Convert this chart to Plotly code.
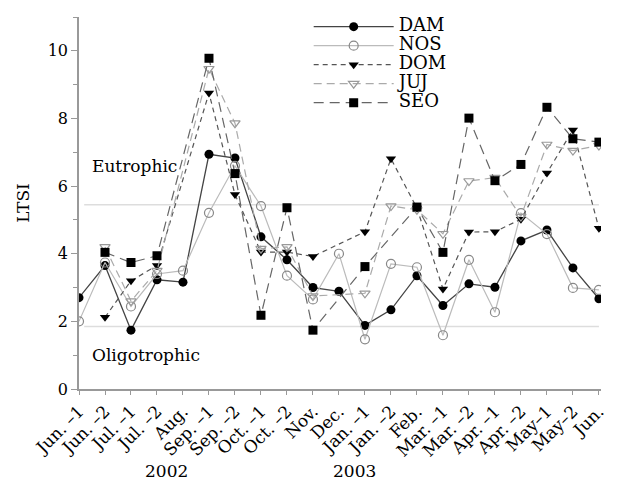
import plotly.graph_objects as go

N = None
categories = ["Jun. –1", "Jun. –2", "Jul. –1", "Jul. –2", "Aug.", "Sep. –1", "Sep. –2",
              "Oct. –1", "Oct. –2", "Nov.", "Dec.", "Jan. –1", "Jan. –2", "Feb.",
              "Mar. –1", "Mar. –2", "Apr. –1", "Apr. –2", "May–1", "May–2", "Jun."]
x_idx = list(range(len(categories)))

DAM = [2.7, 3.65, 1.74, 3.23, 3.16, 6.94, 6.83, 4.5, 3.82, 3.0, 2.89, 1.88, 2.34, 3.35,
       2.47, 3.11, 3.01, 4.38, 4.7, 3.58, 2.67]
NOS = [2.0, 3.74, 2.44, 3.4, 3.5, 5.21, 6.6, 5.41, 3.35, 2.65, 4.0, 1.47, 3.7, 3.6,
       1.59, 3.82, 2.27, 5.2, 4.58, 2.99, 2.93]
DOM = [N, 2.12, 3.2, 3.65, N, 8.75, 5.75, 4.05, 4.05, 3.92, N, 4.65, 6.81, 5.35,
       2.96, 4.64, 4.65, 5.02, 6.39, 7.66, 4.75]
JUJ = [N, 4.2, 2.6, 3.5, N, 9.47, 7.86, 4.15, 4.2, 2.75, N, 2.83, 5.41, 5.3,
       4.59, 6.15, 6.25, 5.1, 7.23, 7.05, 7.2]
SEO = [N, 4.04, 3.74, 3.94, N, 9.78, 6.37, 2.18, 5.36, 1.74, N, 3.62, N, 5.38,
       4.04, 8.01, 6.16, 6.64, 8.33, 7.4, 7.3]

eutrophic_level = 5.45
oligotrophic_level = 1.85
y_ticks = [0, 2, 4, 6, 8, 10]
years = ["2002", "2003"]
year_pos = [3.35, 10.6]

FONT = "DejaVu Serif"

series = [
    ("DAM", DAM, dict(color="#444444", width=1.3), dict(symbol="circle", color="black", size=9)),
    ("NOS", NOS, dict(color="#bbbbbb", width=1.2), dict(symbol="circle-open", color="#888888", size=9, line=dict(width=1.2))),
    ("DOM", DOM, dict(color="#555555", width=1.2, dash="5px,4px"), dict(symbol="triangle-down", color="black", size=9)),
    ("JUJ", JUJ, dict(color="#aaaaaa", width=1.2, dash="8px,5px"), dict(symbol="triangle-down-open", color="#999999", size=9, line=dict(width=1.2))),
    ("SEO", SEO, dict(color="#666666", width=1.2, dash="10px,6px"), dict(symbol="square", color="black", size=9)),
]

fig = go.Figure()
for name, vals, line, marker in series:
    fig.add_trace(go.Scatter(x=x_idx, y=vals, name="<span style='font-size:18px'>" + name + "</span>",
                             mode="lines+markers", line=line, marker=marker, connectgaps=True))

for lvl in (eutrophic_level, oligotrophic_level):
    fig.add_shape(type="line", xref="x", yref="y", x0=0.2, x1=20, y0=lvl, y1=lvl,
                  line=dict(color="#dddddd", width=1.5), layer="below")

fig.add_annotation(x=0.42, y=6.6, text="Eutrophic", showarrow=False, xanchor="left",
                   font=dict(family=FONT, size=17, color="black"))
fig.add_annotation(x=0.42, y=1.0, text="Oligotrophic", showarrow=False, xanchor="left",
                   font=dict(family=FONT, size=17, color="black"))
for yr, xp in zip(years, year_pos):
    fig.add_annotation(x=xp, y=-0.254, yref="paper", text=yr, showarrow=False,
                       font=dict(family=FONT, size=17, color="black"))

fig.update_layout(
    width=621, height=497,
    margin=dict(l=79, r=20, t=15, b=108),
    paper_bgcolor="white", plot_bgcolor="white",
    font=dict(family=FONT, color="black"),
    showlegend=True,
    legend=dict(x=0.44, y=1.013, xanchor="left", yanchor="top", bgcolor="rgba(0,0,0,0)",
                font=dict(family=FONT, size=11, color="black"), tracegroupgap=0,
                itemwidth=80),
    xaxis=dict(range=[0, 20.08], tickmode="array", tickvals=x_idx, ticktext=categories,
               tickangle=-45, ticks="outside", ticklen=4, tickcolor="#999999",
               showline=True, linecolor="#999999", linewidth=1.5, showgrid=False,
               zeroline=False, tickfont=dict(family=FONT, size=17, color="black")),
    yaxis=dict(range=[0, 11], tickmode="array", tickvals=y_ticks, ticks="outside", ticklen=6,
               tickcolor="#999999", minor=dict(dtick=1, tick0=0, ticks="outside", ticklen=4,
                                                tickcolor="#999999"),
               showline=True, linecolor="#999999", linewidth=1.5, showgrid=False,
               zeroline=False, tickfont=dict(family=FONT, size=16, color="black"),
               title=dict(text="LTSI", font=dict(family=FONT, size=17, color="black"),
                          standoff=14)),
)

fig.write_html("out.html")
